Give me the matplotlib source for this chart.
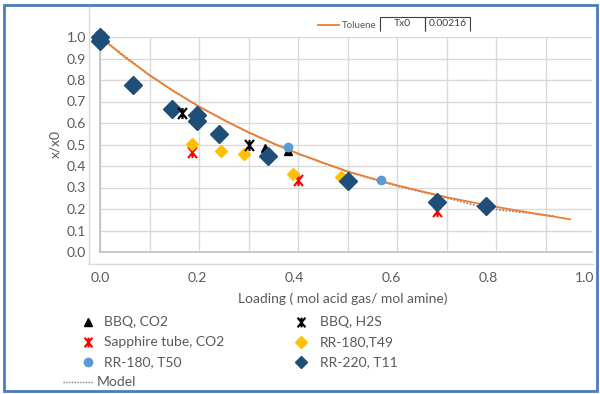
import matplotlib
matplotlib.use("Agg")
import matplotlib.pyplot as plt
import numpy as np
from matplotlib.path import Path
from matplotlib.lines import Line2D
from matplotlib.patches import Rectangle

plt.rcParams['font.family'] = ['Lato', 'DejaVu Sans']

# ---------------- data ----------------
curve_x = [0.0, 0.05, 0.1, 0.15, 0.2, 0.25, 0.3, 0.35, 0.4, 0.45, 0.5,
           0.55, 0.6, 0.65, 0.7, 0.75, 0.8, 0.85, 0.9, 0.95]
curve_y = [1.0, 0.907, 0.823, 0.746, 0.677, 0.614, 0.557, 0.505, 0.458, 0.416, 0.375,
           0.342, 0.31, 0.282, 0.255, 0.232, 0.21, 0.19, 0.171, 0.152]
model_x = [0.0, 0.1, 0.2, 0.3, 0.4, 0.5, 0.6, 0.7, 0.78, 0.85, 0.92]
model_y = [1.0, 0.821, 0.675, 0.555, 0.456, 0.373, 0.307, 0.252, 0.204, 0.185, 0.166]

bbq_co2_x = [0.195, 0.333, 0.38]
bbq_co2_y = [0.655, 0.485, 0.47]
bbq_h2s_x = [0.166, 0.30]
bbq_h2s_y = [0.648, 0.50]
sapphire_x = [0.0, 0.186, 0.40, 0.68]
sapphire_y = [1.0, 0.465, 0.335, 0.19]
rr180_t49_x = [0.186, 0.244, 0.291, 0.34, 0.39, 0.487]
rr180_t49_y = [0.502, 0.468, 0.458, 0.45, 0.362, 0.349]
rr180_t50_x = [0.38, 0.567]
rr180_t50_y = [0.488, 0.333]
rr220_t11_x = [0.0, 0.0, 0.067, 0.145, 0.195, 0.196, 0.241, 0.34, 0.50, 0.68, 0.78]
rr220_t11_y = [1.0, 0.98, 0.777, 0.665, 0.635, 0.61, 0.55, 0.445, 0.328, 0.232, 0.212]

y_ticks = [0.0, 0.1, 0.2, 0.3, 0.4, 0.5, 0.6, 0.7, 0.8, 0.9, 1.0]
x_ticks = [0.0, 0.2, 0.4, 0.6, 0.8, 1.0]
table_cells = [["Tx0", "0.00216"]]
legend_col1 = ["BBQ, CO2", "Sapphire tube, CO2", "RR-180, T50"]
legend_col2 = ["BBQ, H2S", "RR-180,T49", "RR-220, T11"]

# ---------------- style ----------------
W, H = 600, 394
GRAY = '#595959'
GRID = '#d9d9d9'
DARK = '#1f4e79'
GOLD = '#ffc000'
LBLUE = '#5b9bd5'
RED = '#ff0000'
ORANGE = '#ed7d31'

# Excel-style star marker: X with a vertical stroke (stroked only)
star_path = Path(
    [(-0.8, -1), (0.8, 1), (-0.8, 1), (0.8, -1), (0, 1), (0, -1)],
    [Path.MOVETO, Path.LINETO, Path.MOVETO, Path.LINETO, Path.MOVETO, Path.LINETO])

fig = plt.figure(figsize=(6, 3.94), dpi=100)

def fx(px):
    return px / W

def fy(py):
    return 1 - py / H

# secondary frame lines
fig.add_artist(Line2D([fx(89), fx(89)], [fy(7), fy(264)], color=GRID, lw=1))
fig.add_artist(Line2D([fx(89), fx(593)], [fy(264), fy(264)], color=GRID, lw=1))

ax = fig.add_axes([fx(100), fy(252), 492 / W, 215 / H])
ax.set_xlim(0, 492 / 495)
ax.set_ylim(0, 1.0)
ax.set_xticks(np.arange(0, 1.0, 0.1))
ax.set_yticks(y_ticks)
ax.set_yticklabels([f"{v:.1f}" for v in y_ticks])
ax.tick_params(axis='both', length=0, colors=GRAY, labelsize=10)
ax.tick_params(axis='x', labelbottom=False)
ax.tick_params(axis='y', pad=10)
ax.grid(True, color=GRID, lw=1)
ax.set_axisbelow(True)
for s in ['top', 'right']:
    ax.spines[s].set_visible(False)
for s in ['left', 'bottom']:
    ax.spines[s].set_color('#bfbfbf')
    ax.spines[s].set_linewidth(1.2)
ax.set_ylabel("x/x0", color=GRAY, fontsize=10, labelpad=4)

# model + curve
ax.plot(model_x, model_y, color='#7f7f7f', lw=1.2, ls=(0, (1, 1)), zorder=2)
ax.plot(curve_x, curve_y, color=ORANGE, lw=1.3, zorder=3)

ax.plot(sapphire_x, sapphire_y, ls='none', marker=star_path, color=RED, mfc='none',
        ms=8, mew=1.5, zorder=4, clip_on=False)
ax.plot(rr180_t49_x, rr180_t49_y, 'D', color=GOLD, ms=6.5, mec=GOLD, zorder=4, clip_on=False)
ax.plot(bbq_co2_x, bbq_co2_y, '^', color='black', ms=6, zorder=4, clip_on=False)
ax.plot(rr220_t11_x, rr220_t11_y, 'D', color=DARK, ms=9.5, mec=DARK, zorder=5, clip_on=False)
ax.plot(rr180_t50_x, rr180_t50_y, 'o', color=LBLUE, ms=6, zorder=6, clip_on=False)
ax.plot(bbq_h2s_x, bbq_h2s_y, ls='none', marker=star_path, color='black', mfc='none',
        ms=8, mew=1.5, zorder=6, clip_on=False)

# secondary x axis for labels
ax2 = fig.add_axes([fx(100), fy(264), 485 / W, 0.001])
ax2.set_xlim(0, 1.0)
ax2.set_xticks(x_ticks)
ax2.set_xticklabels([f"{v:.1f}" for v in x_ticks])
ax2.set_yticks([])
ax2.tick_params(axis='x', length=0, colors=GRAY, labelsize=10, pad=6)
for s in ax2.spines.values():
    s.set_visible(False)
ax2.patch.set_visible(False)
ax2.set_xlabel("Loading ( mol acid gas/ mol amine)", color=GRAY, fontsize=10, labelpad=6)

# bottom legend (drawn in a pixel-coordinate overlay axes)
lg = fig.add_axes([0, 0, 1, 1])
lg.set_xlim(0, W)
lg.set_ylim(H, 0)
lg.axis('off')
rows = [322, 342, 362]
col1_styles = [dict(marker='^', color='black', ms=6),
               dict(marker=star_path, color=RED, mfc='none', ms=7, mew=1.5),
               dict(marker='o', color=LBLUE, ms=6)]
col2_styles = [dict(marker=star_path, color='black', mfc='none', ms=7, mew=1.5),
               dict(marker='D', color=GOLD, ms=6),
               dict(marker='D', color=DARK, ms=6)]
for ry, lab, st in zip(rows, legend_col1, col1_styles):
    lg.plot([88], [ry], ls='none', **st)
    lg.text(104, ry, lab, fontsize=10, color=GRAY, va='center', ha='left')
for ry, lab, st in zip(rows, legend_col2, col2_styles):
    lg.plot([301], [ry], ls='none', **st)
    lg.text(320, ry, lab, fontsize=10, color=GRAY, va='center', ha='left')
lg.plot([63, 93], [382, 382], color='#7f7f7f', lw=1, ls=(0, (1, 1)))
lg.text(97, 382, "Model", fontsize=10, color=GRAY, va='center', ha='left')

# top legend "Toluene"
lg.plot([318, 339], [25, 25], color=ORANGE, lw=1.3)
lg.text(342, 25, "Toluene", fontsize=7, color=GRAY, va='center', ha='left')
tab_ax = fig.add_axes([fx(380), fy(31), 90 / W, 14 / H])
tab_ax.axis('off')
tbl = tab_ax.table(cellText=table_cells, bbox=[0, 0, 1, 1], cellLoc='center')
tbl.auto_set_font_size(False)
for (r, c), cell in tbl.get_celld().items():
    cell.visible_edges = 'TLR'
    cell.set_edgecolor('#404040')
    cell.set_linewidth(0.8)
    cell.get_text().set_fontsize(7.5)
    cell.get_text().set_color('#404040')
    cell.set_facecolor('none')

# outer blue border
fig.add_artist(Rectangle((fx(4), fy(391)), 593 / W, 386 / H, fill=False,
                         edgecolor='#4a7ebb', lw=2))

fig.savefig("out.png", dpi=100)
